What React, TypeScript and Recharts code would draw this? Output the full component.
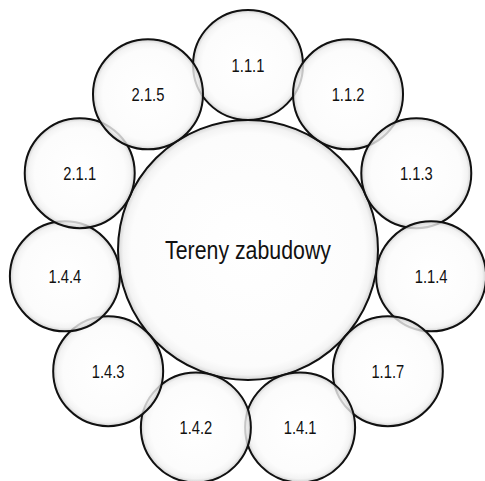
import React from "react";
import { PieChart, Pie } from "recharts";

// ring of satellite topics, clockwise starting from the top
const satelliteLabels: string[] = [
  "1.1.1",
  "1.1.2",
  "1.1.3",
  "1.1.4",
  "1.1.7",
  "1.4.1",
  "1.4.2",
  "1.4.3",
  "1.4.4",
  "2.1.1",
  "2.1.5",
];
const satelliteWeights: number[] = [1, 1, 1, 1, 1, 1, 1, 1, 1, 1, 1];

const centerLabels: string[] = ["Tereny zabudowy"];
const centerWeights: number[] = [1];

const RADIAN = Math.PI / 180;
const FONT = "'Liberation Sans', Arial, sans-serif";

const satelliteData = satelliteLabels.map((name, i) => ({ name, value: satelliteWeights[i] }));
const centerData = centerLabels.map((name, i) => ({ name, value: centerWeights[i] }));

const SAT_R = 55;
const CENTER_R = 130;

// the reference uses a narrow face, so squeeze the text horizontally
const NarrowText = ({ x, y, size, children }: any) => (
  <text
    transform={`translate(${x},${y}) scale(0.82,1)`}
    textAnchor="middle"
    dominantBaseline="central"
    fontFamily={FONT}
    fontSize={size}
    fill="#111"
  >
    {children}
  </text>
);

// bubble drawn at the middle of each (invisible) pie sector
const renderSatellite = (props: any) => {
  const { cx, cy, midAngle, outerRadius, index } = props;
  const x = cx + outerRadius * Math.cos(-midAngle * RADIAN);
  const y = cy + outerRadius * Math.sin(-midAngle * RADIAN);
  return (
    <g key={`sat-${index}`}>
      <circle cx={x} cy={y} r={SAT_R} fill="url(#glassSmall)" stroke="#111" strokeWidth={2} />
      <NarrowText x={x} y={y} size={18}>
        {satelliteLabels[index]}
      </NarrowText>
    </g>
  );
};

const renderCenter = (props: any) => {
  const { cx, cy, index } = props;
  return (
    <g key={`center-${index}`}>
      <circle cx={cx} cy={cy} r={CENTER_R} fill="url(#glassBig)" stroke="#111" strokeWidth={2} />
      <NarrowText x={cx} y={cy} size={26}>
        {centerLabels[index]}
      </NarrowText>
    </g>
  );
};

export default function App() {
  return (
    <div style={{ position: "absolute", left: 0, top: 0, width: 485, height: 481, background: "#fff" }}>
      <PieChart width={485} height={481} margin={{ top: 0, right: 0, bottom: 0, left: 0 }}>
        <defs>
          <radialGradient id="glassSmall" cx="50%" cy="50%" r="50%">
            <stop offset="0%" stopColor="#ffffff" stopOpacity={0.8} />
            <stop offset="82%" stopColor="#fbfbfb" stopOpacity={0.8} />
            <stop offset="93%" stopColor="#f0f0f0" stopOpacity={0.8} />
            <stop offset="98%" stopColor="#d2d2d2" stopOpacity={0.8} />
            <stop offset="100%" stopColor="#999999" stopOpacity={0.85} />
          </radialGradient>
          <radialGradient id="glassBig" cx="50%" cy="50%" r="50%">
            <stop offset="0%" stopColor="#ffffff" stopOpacity={0.8} />
            <stop offset="90%" stopColor="#fbfbfb" stopOpacity={0.8} />
            <stop offset="96%" stopColor="#f0f0f0" stopOpacity={0.8} />
            <stop offset="99%" stopColor="#d2d2d2" stopOpacity={0.8} />
            <stop offset="100%" stopColor="#999999" stopOpacity={0.85} />
          </radialGradient>
        </defs>
        <Pie
          data={centerData}
          dataKey="value"
          nameKey="name"
          cx={248}
          cy={250}
          innerRadius={0}
          outerRadius={CENTER_R}
          fill="none"
          stroke="none"
          label={renderCenter}
          labelLine={false}
          isAnimationActive={false}
        />
        <Pie
          data={satelliteData}
          dataKey="value"
          nameKey="name"
          cx={248}
          cy={250}
          startAngle={106.36}
          endAngle={-253.64}
          innerRadius={184}
          outerRadius={185}
          fill="none"
          stroke="none"
          label={renderSatellite}
          labelLine={false}
          isAnimationActive={false}
        />
      </PieChart>
    </div>
  );
}
